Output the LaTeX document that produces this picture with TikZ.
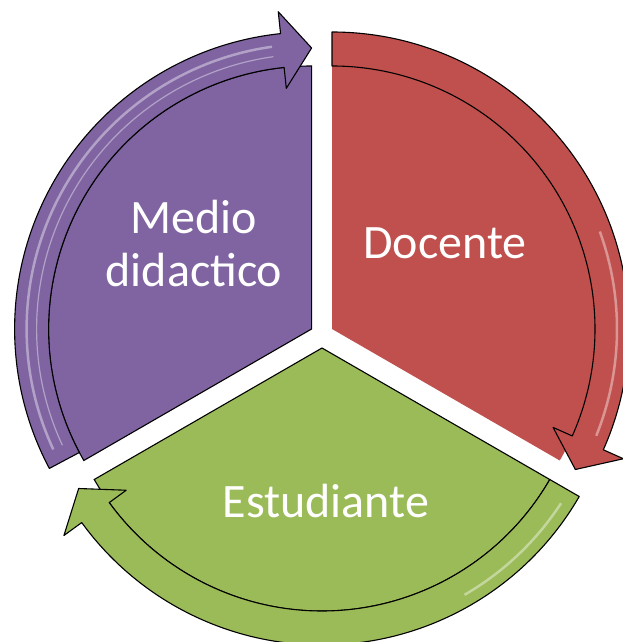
\documentclass[tikz,border=0pt]{standalone}
\usepackage{fontspec}
\setmainfont{Carlito}

\definecolor{docenteRed}{HTML}{C0504D}
\definecolor{medioPurple}{HTML}{8064A2}
\definecolor{estudianteGreen}{HTML}{9BBB59}

\tikzset{segtext/.style={text=white,font=\fontsize{48}{53}\selectfont,align=center}}
\tikzset{band/.style={draw=black,line width=1.1pt,line join=round}}
\tikzset{gloss/.style={draw=white,opacity=0.4,line width=2.5pt}}

\begin{document}
\begin{tikzpicture}[x=1pt,y=1pt]
		\newcommand{\bodyRad}{263}
		\newcommand{\bandRad}{297}
		\newcommand{\headIn}{242}
		\newcommand{\headOut}{319}
		\newcommand{\headMid}{281}
		
		\useasboundingbox (0,0) rectangle (623,642);
		\clip (0,0) rectangle (623,642);
		
		% Docente segment (red)
		\begin{scope}[shift={(332,313)}]
		\fill[docenteRed] (0,0) -- (90:\bodyRad) arc[start angle=90,end angle=-30,radius=\bodyRad] -- cycle;
		\draw[band,fill=docenteRed] (90:\bandRad) arc[start angle=90,end angle=-24,radius=\bandRad] -- (-24:\headOut) -- (-30:\headMid) -- (-24:\headIn) -- (-24:\bodyRad) arc[start angle=-24,end angle=90,radius=\bodyRad] -- cycle;
		\draw[gloss] (20:285) arc[start angle=20,end angle=-22,radius=285];	% highlight
		\end{scope}
		
		% Medio didactico segment (purple)
		\begin{scope}[shift={(311.6,313)}]
		\draw[fill=medioPurple,line width=1.1pt] (0,0) -- (210:\bodyRad) arc[start angle=210,end angle=90,radius=\bodyRad] -- cycle;
		\draw[band,fill=medioPurple] (208:\bandRad) arc[start angle=208,end angle=96,radius=\bandRad] -- (96:\headOut) -- (90:\headMid) -- (96:\headIn) -- (96:\bodyRad) arc[start angle=96,end angle=208,radius=\bodyRad] -- cycle;
		\draw[gloss] (205:285) arc[start angle=205,end angle=98,radius=285];	% highlight
		\draw[gloss,line width=1.2pt] (205:275) arc[start angle=205,end angle=98,radius=275];
		\end{scope}
		
		% Estudiante segment (green)
		\begin{scope}[shift={(322,294)}]
		\draw[fill=estudianteGreen,line width=1.1pt] (0,0) -- (330:\bodyRad) arc[start angle=330,end angle=210,radius=\bodyRad] -- cycle;
		\draw[band,fill=estudianteGreen] (330:\bandRad) arc[start angle=330,end angle=216,radius=\bandRad] -- (216:\headOut) -- (210:\headMid) -- (216:\headIn) -- (216:\bodyRad) arc[start angle=216,end angle=330,radius=\bodyRad] -- cycle;
		\draw[gloss] (327:285) arc[start angle=327,end angle=300,radius=285];	% highlight
		\end{scope}
		
		% labels
		\node[segtext,anchor=base] (docente) at (445,383) {Docente};
		\node[segtext] (medio) at (194,398) {Medio\\didactico};
		\node[segtext,anchor=base] (estudiante) at (326,124) {Estudiante};
\end{tikzpicture}
\end{document}
